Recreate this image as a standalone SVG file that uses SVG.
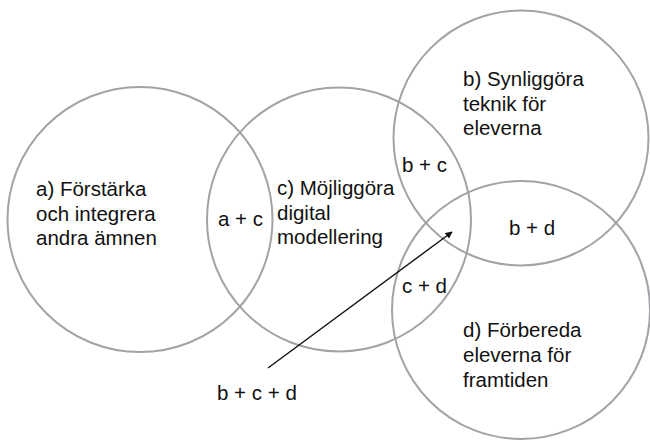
<svg xmlns="http://www.w3.org/2000/svg" width="650" height="442" viewBox="0 0 650 442">
  <style>
    .ring { fill: none; stroke: #a2a3a7; stroke-width: 2; }
    .lbl { font-family: "Liberation Sans", Arial, sans-serif; font-size: 20.5px; fill: #111; }
    .link { stroke: #111; stroke-width: 1.4; fill: none; }
  </style>
  <defs>
    <marker id="arrowhead" viewBox="0 0 10 10" refX="9" refY="5" markerWidth="7" markerHeight="7" orient="auto" markerUnits="userSpaceOnUse">
      <path d="M0,0 L10,5 L0,10 z" fill="#111"/>
    </marker>
  </defs>
  <rect width="650" height="442" fill="#fff"/>

  <g id="circle-a">
    <circle class="ring" cx="140" cy="219.5" r="132.5"/>
    <text class="lbl" x="36" y="196">a) Förstärka</text>
    <text class="lbl" x="36" y="220.5">och integrera</text>
    <text class="lbl" x="36" y="245">andra ämnen</text>
  </g>

  <g id="circle-c">
    <circle class="ring" cx="339" cy="219.5" r="132"/>
    <text class="lbl" x="277" y="195">c) Möjliggöra</text>
    <text class="lbl" x="277" y="219.5">digital</text>
    <text class="lbl" x="277" y="244">modellering</text>
  </g>

  <g id="circle-b">
    <circle class="ring" cx="521" cy="138" r="127.5"/>
    <text class="lbl" x="463" y="86">b) Synliggöra</text>
    <text class="lbl" x="463" y="110.5">teknik för</text>
    <text class="lbl" x="463" y="135">eleverna</text>
  </g>

  <g id="circle-d">
    <circle class="ring" cx="521" cy="310" r="129"/>
    <text class="lbl" x="463" y="337">d) Förbereda</text>
    <text class="lbl" x="463" y="361.5">eleverna för</text>
    <text class="lbl" x="463" y="386.5">framtiden</text>
  </g>

  <g id="overlaps">
    <text class="lbl" x="218" y="226">a + c</text>
    <text class="lbl" x="402" y="171.5">b + c</text>
    <text class="lbl" x="402" y="293">c + d</text>
    <text class="lbl" x="509" y="235">b + d</text>
    <text class="lbl" x="217" y="400">b + c + d</text>
  </g>

  <g id="connectors">
    <line class="link" x1="268" y1="368" x2="452" y2="232" marker-end="url(#arrowhead)"/>
  </g>
</svg>
